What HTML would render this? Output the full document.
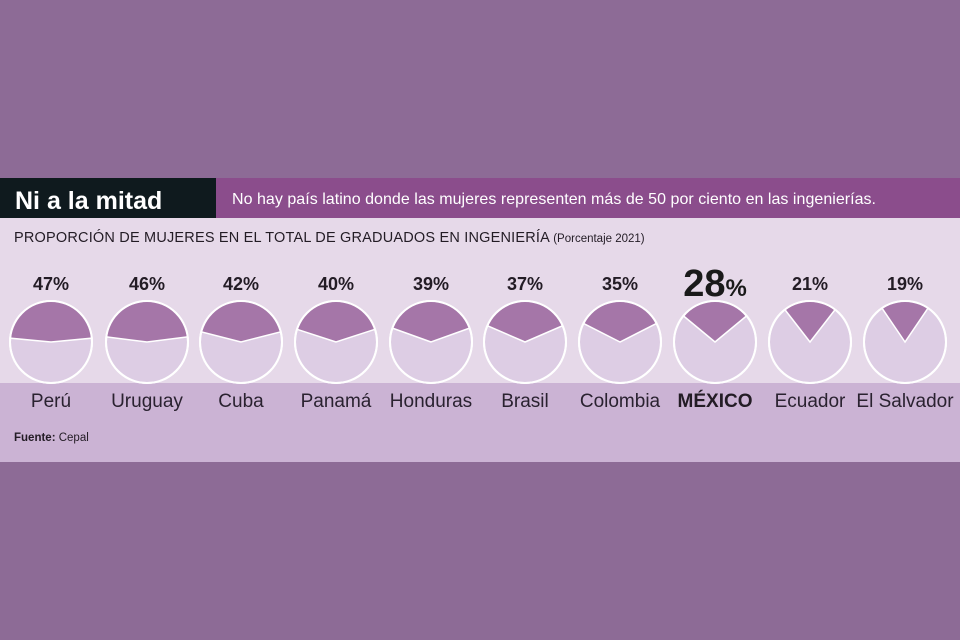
<!DOCTYPE html>
<html><head><meta charset="utf-8"><style>
body{margin:0;width:960px;height:640px;background:#8d6b96;overflow:hidden;font-family:"Liberation Sans",sans-serif}
</style></head><body>
<svg width="960" height="640" xmlns="http://www.w3.org/2000/svg" style="position:absolute;left:0;top:0">
<rect x="0" y="178" width="960" height="40" fill="#8b4d8c"/>
<rect x="0" y="178" width="216" height="40" fill="#0f1a1e"/>
<rect x="0" y="218" width="960" height="165" fill="#e6d9e9"/>
<rect x="0" y="383" width="960" height="79" fill="#cbb3d4"/>
<text x="15" y="209" font-size="25" font-weight="bold" fill="#fff">Ni a la mitad</text>
<text x="232" y="204" font-size="16" fill="#fff" textLength="644">No hay país latino donde las mujeres representen más de 50 por ciento en las ingenierías.</text>
<text x="14" y="242" font-size="14.5" fill="#231c25"><tspan textLength="535">PROPORCIÓN DE MUJERES EN EL TOTAL DE GRADUADOS EN INGENIERÍA</tspan> <tspan font-size="11.5">(Porcentaje 2021)</tspan></text>
<text x="14" y="441" font-size="11.5" fill="#231c25"><tspan font-weight="bold">Fuente:</tspan> Cepal</text>
<g id="pies"></g>
</svg>
<script>
var d=[["Perú",47,51],["Uruguay",46,147],["Cuba",42,241],["Panamá",40,336],["Honduras",39,431],["Brasil",37,525],["Colombia",35,620],["MÉXICO",28,715],["Ecuador",21,810],["El Salvador",19,905]];
var g=document.getElementById("pies"),s="",cy=342,r=41;
d.forEach(function(e){var cx=e[2],a=Math.PI*e[1]/100;
var x1=cx-r*Math.sin(a),y1=cy-r*Math.cos(a),x2=cx+r*Math.sin(a);
s+='<circle cx="'+cx+'" cy="'+cy+'" r="'+r+'" fill="#ddcde4" stroke="#fff" stroke-width="2"/>';
s+='<path d="M'+cx+' '+cy+'L'+x1+' '+y1+'A'+r+' '+r+' 0 0 1 '+x2+' '+y1+'Z" fill="#a576a8" stroke="#fff" stroke-width="1.5"/>';
s+='<circle cx="'+cx+'" cy="'+cy+'" r="'+r+'" fill="none" stroke="#fff" stroke-width="2"/>';
if(e[0]=="MÉXICO"){s+='<text x="'+cx+'" y="296" text-anchor="middle" font-weight="bold" fill="#1a1a1a"><tspan font-size="38">28</tspan><tspan font-size="24">%</tspan></text>';
s+='<text x="'+cx+'" y="407" text-anchor="middle" font-size="19" font-weight="bold" fill="#231c25">MÉXICO</text>';}
else{s+='<text x="'+cx+'" y="290" text-anchor="middle" font-size="18" font-weight="bold" fill="#231c25">'+e[1]+'%</text>';
s+='<text x="'+cx+'" y="407" text-anchor="middle" font-size="19" fill="#2a2230">'+e[0]+'</text>';}
});
g.innerHTML=s;
</script>
</body></html>
